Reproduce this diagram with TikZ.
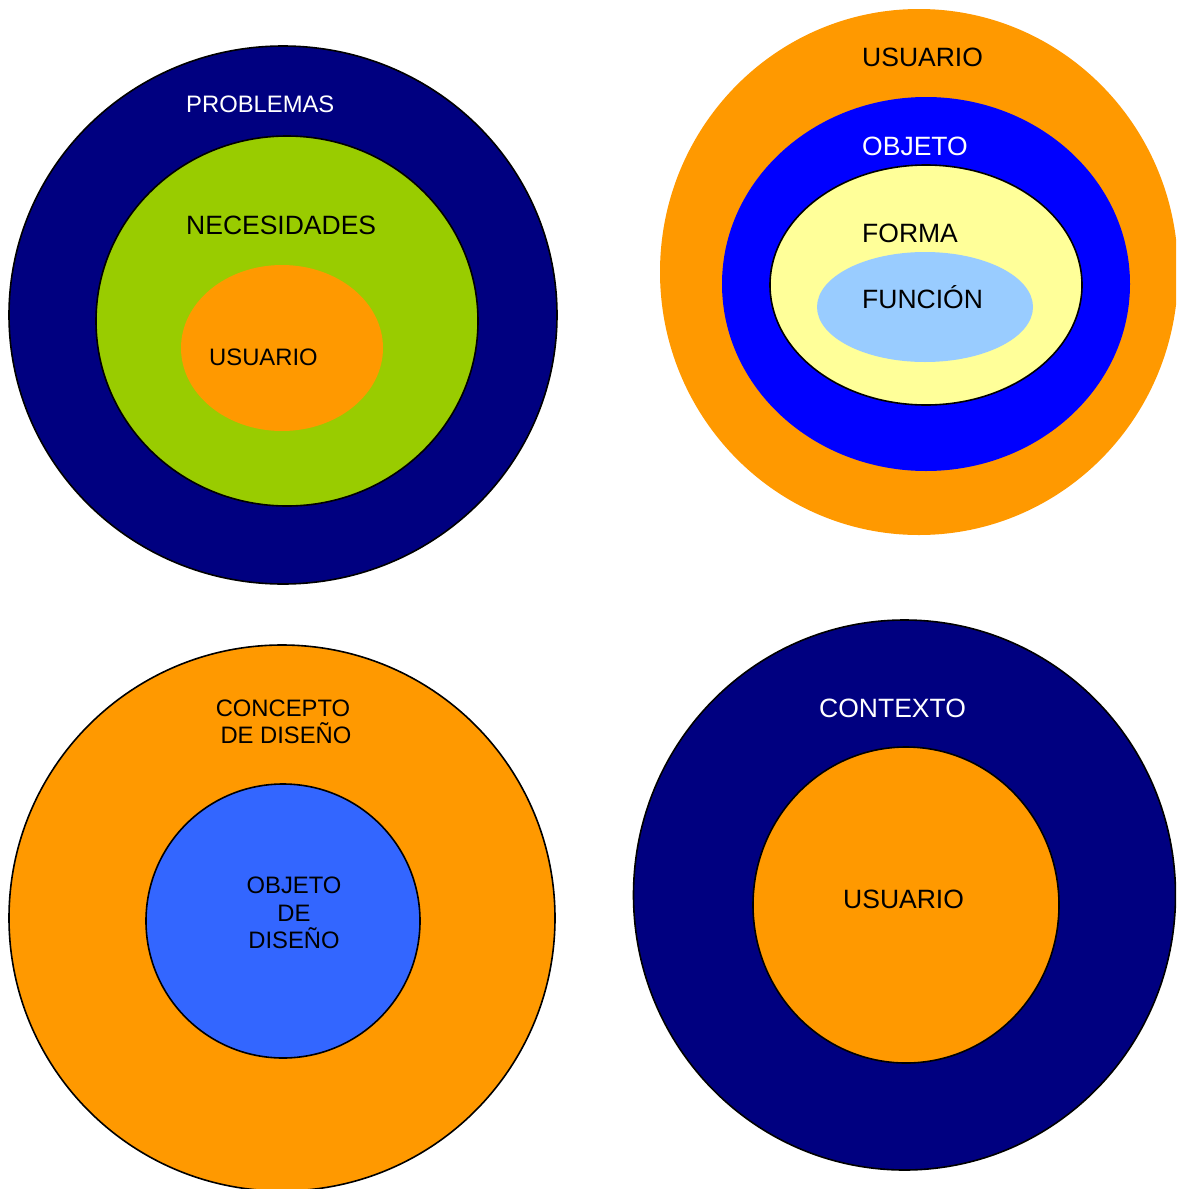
\documentclass[tikz,border=0pt]{standalone}
\usepackage{fontspec}
\setmainfont{Liberation Sans}
\definecolor{navyring}{HTML}{000080}
\definecolor{limering}{HTML}{99CC00}
\definecolor{orangering}{HTML}{FF9900}
\definecolor{bluering}{HTML}{0000FF}
\definecolor{paleyellow}{HTML}{FFFF99}
\definecolor{skyblue}{HTML}{99CCFF}
\definecolor{midblue}{HTML}{3366FF}
\tikzset{
  ring/.style={draw=black, line width=1.6pt},
  lbl/.style={inner sep=0pt, anchor=base west, font=\fontsize{26.5}{30}\selectfont},
  lblsmall/.style={inner sep=0pt, anchor=base west, font=\fontsize{23.8}{27}\selectfont},
  lblc/.style={inner sep=0pt, anchor=base, font=\fontsize{23.8}{27}\selectfont},
}
\begin{document}
\begin{tikzpicture}[x=1pt,y=-1pt]
\useasboundingbox (0,0) rectangle (1176,1189);
\clip (0,0) rectangle (1176,1189);
\fill[white] (0,0) rectangle (1176,1189);

% top left: problems / needs / user
\draw[ring, fill=navyring] (283,315) ellipse [x radius=274pt, y radius=269pt];
\draw[ring, fill=limering] (287,321) ellipse [x radius=191pt, y radius=185pt];
\fill[orangering] (282,348) ellipse [x radius=101pt, y radius=83pt];
\node[lblsmall, text=white] (problemas) at (186,112) {PROBLEMAS};
\node[lbl] (necesidades) at (186,234) {NECESIDADES};
\node[lblsmall] (usuarioA) at (209,365) {USUARIO};

% top right: user / object / form / function
\fill[orangering] (919,272) ellipse [x radius=259pt, y radius=263pt];
\fill[bluering] (926,284) ellipse [x radius=204pt, y radius=187pt];
\draw[ring, fill=paleyellow] (926,285) ellipse [x radius=156pt, y radius=120pt];
\fill[skyblue] (925,307) ellipse [x radius=108pt, y radius=55pt];
\node[lbl] (usuarioB) at (862,66) {USUARIO};
\node[lbl, text=white] (objeto) at (862,155) {OBJETO};
\node[lbl] (forma) at (862,242) {FORMA};
\node[lbl] (funcion) at (862,308) {FUNCIÓN};

% bottom left: design concept / design object
\draw[ring, fill=orangering] (282,918) ellipse [x radius=273pt, y radius=273pt];
\draw[ring, fill=midblue] (283,921) ellipse [x radius=137pt, y radius=137pt];
\node[lblc] (conceptoA) at (283,716) {CONCEPTO};
\node[lblc] (conceptoB) at (286,743) {DE DISEÑO};
\node[lblc] (objetoA) at (294,893) {OBJETO};
\node[lblc] (objetoB) at (294,921) {DE};
\node[lblc] (objetoC) at (294,948) {DISEÑO};

% bottom right: context / user
\draw[ring, fill=navyring] (904.5,895) ellipse [x radius=271pt, y radius=275pt];
\draw[ring, fill=orangering] (906,905) ellipse [x radius=153pt, y radius=158pt];
\node[lbl, text=white] (contexto) at (819,717) {CONTEXTO};
\node[lbl] (usuarioC) at (843,908) {USUARIO};
\end{tikzpicture}
\end{document}
